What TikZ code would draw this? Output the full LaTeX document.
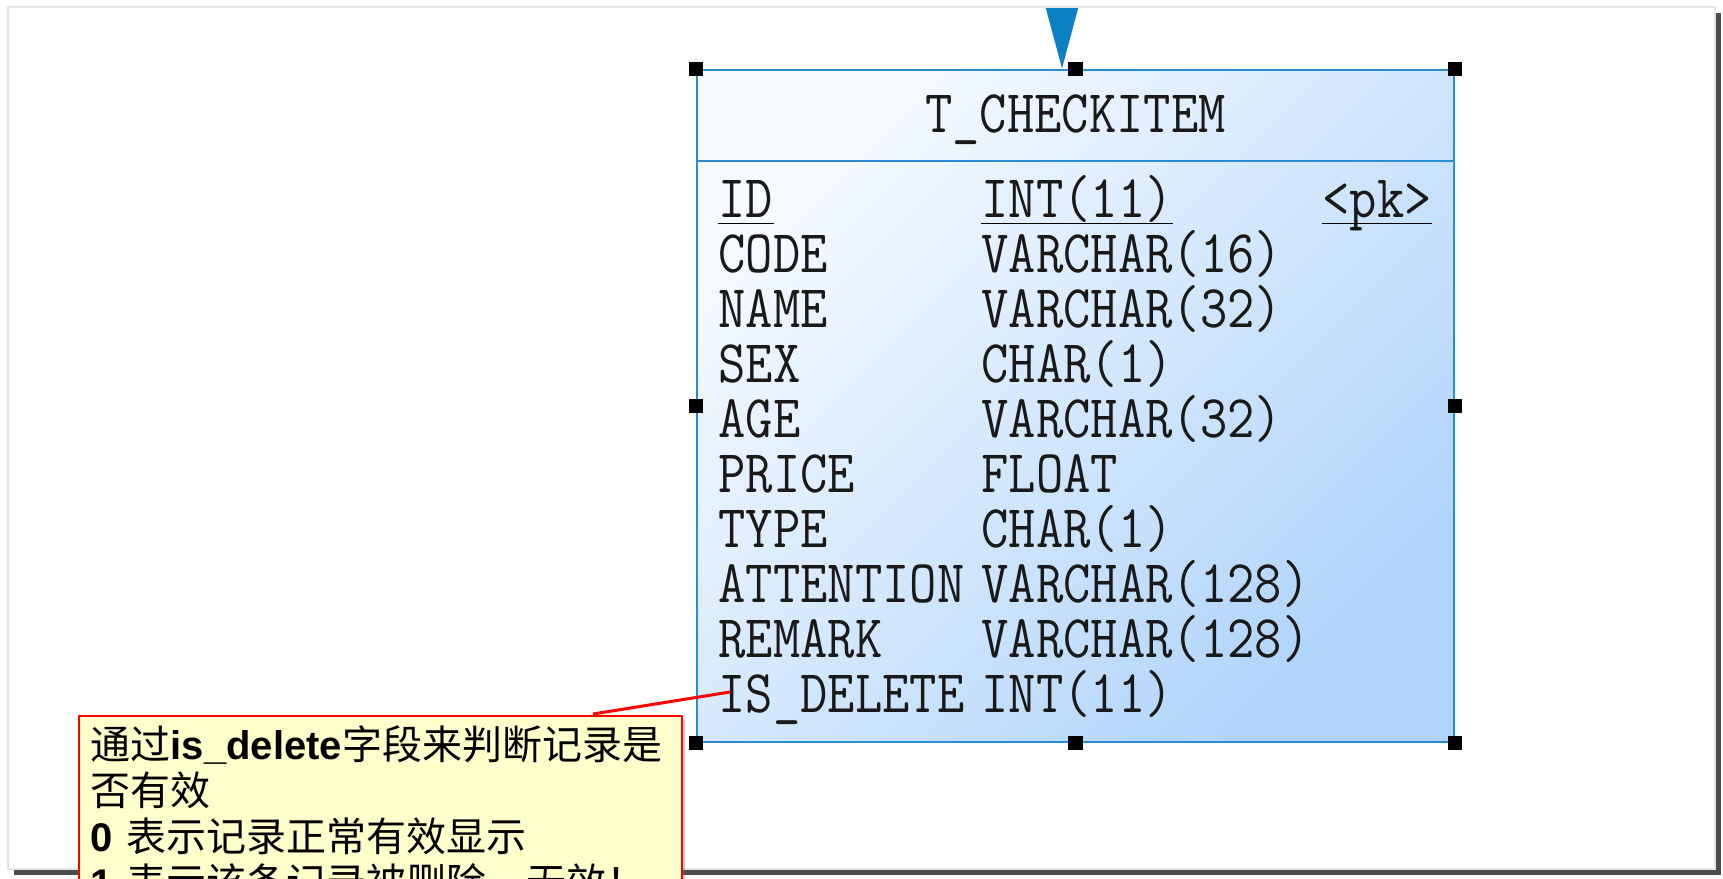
\documentclass[tikz,border=0pt]{standalone}
\usepackage{fontspec}
\usetikzlibrary{arrows.meta,positioning,shadows}
\newfontfamily\tabfont[FakeStretch=0.875]{Latin Modern Mono}
\newfontfamily\cjkfont{Noto Sans CJK SC}
\newfontfamily\boldlat{Liberation Sans}
\definecolor{tblblue}{HTML}{2A8CD2}
\definecolor{tbllight}{HTML}{F6FAFF}
\definecolor{tbldark}{HTML}{B0D4FA}
\definecolor{linkblue}{HTML}{0B80C2}
\definecolor{noteyellow}{HTML}{FFFFCC}

\begin{document}
\begin{tikzpicture}[x=0.5pt,y=-0.5pt,semithick]
	\tikzstyle{field}=[anchor=base west,inner sep=0pt,text=black!90,font=\tabfont\fontsize{30.3}{30}\selectfont]
	\tikzstyle{handle}=[fill=black,draw=black,minimum size=6.5pt,inner sep=0pt]
	\tikzstyle{tablebox}=[draw=tblblue,line width=1.3pt,top color=tbllight,bottom color=tbldark,
		shading angle=45,minimum width=378.5pt,minimum height=336pt,inner sep=0pt]
	\tikzstyle{notebox}=[draw=red,fill=noteyellow,thick,anchor=north west,text width=289.5pt,
		inner xsep=6pt,inner ysep=5pt,align=left,font=\cjkfont\fontsize{20}{23}\selectfont,
		drop shadow={shadow xshift=1.5pt,shadow yshift=-1.5pt,opacity=.35,fill=black!60}]
	\newcommand{\kw}[1]{{\boldlat\bfseries #1}}
	
	\useasboundingbox (0,0) rectangle (1723,878);
	% page
	\fill[black!70] (14,13) rectangle (1721,875);
	\draw[black!10,fill=white] (8,7) rectangle (1715,869);
	
	% table
	\node[tablebox] (tbl) at (1075.5,406) {};
	\node[field,anchor=base] (title) at (1075.5,132) {T\_CHECKITEM};
	\coordinate (hsep) at (0,161);
	\draw[tblblue,line width=1.3pt] (tbl.west |- hsep) -- (tbl.east |- hsep);
	
	\foreach \fname/\ftype [count=\i] in {ID/INT(11), CODE/VARCHAR(16), NAME/VARCHAR(32),
		SEX/CHAR(1), AGE/VARCHAR(32), PRICE/FLOAT, TYPE/CHAR(1), ATTENTION/VARCHAR(128),
		REMARK/VARCHAR(128), IS\_DELETE/INT(11)}{
		\node[field] (f\i) at (718,{217+55*(\i-1)}) {\fname};
		\node[field] (t\i) at (981,{217+55*(\i-1)}) {\ftype};
	}
	\node[field] (pk) at (1322,217) {<pk>};
	\foreach \n in {f1,t1,pk}
		\draw[thin] ([yshift=-3pt]\n.base west) -- ([yshift=-3pt]\n.base east);
	
	\foreach \a in {north west,north,north east,east,south east,south,south west,west}
		\node[handle] at (tbl.\a) {};
	
	% reference from above, cut at the page edge
	\begin{scope}
		\clip (8,8) rectangle (1715,869);
		\coordinate (src) at (1062,-40);
		\draw[linkblue,line width=2pt,-{Triangle[length=31pt,width=16pt]}] (src) -- (src |- tbl.north);
	\end{scope}
	
	% note
	\node[notebox] (note) at (78,715) {通过\kw{is\_delete}字段来判断记录是\\否有效\\
		\kw{0} 表示记录正常有效显示\\\kw{1} 表示该条记录被删除，无效！};
	\coordinate (notetip) at (593,714);
	\draw[red,line width=1.5pt] (notetip) -- ([shift={(12,-20)}]f10.base west);
\end{tikzpicture}
\end{document}
